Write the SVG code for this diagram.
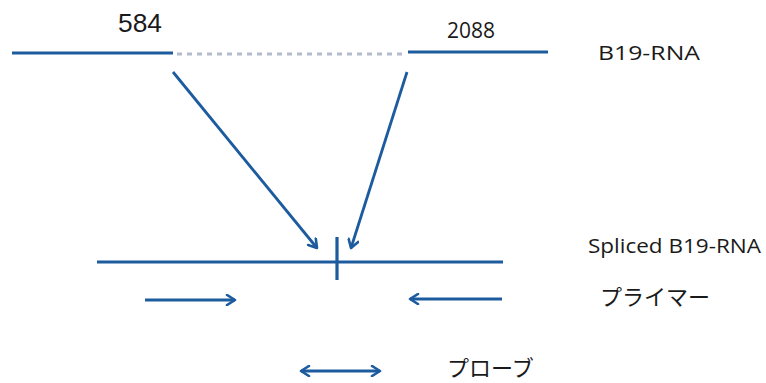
<svg xmlns="http://www.w3.org/2000/svg" width="766" height="383" viewBox="0 0 766 383">
  <defs>
    <marker id="chev" viewBox="0 0 12 12" refX="10" refY="6" markerWidth="12" markerHeight="12" markerUnits="userSpaceOnUse" orient="auto-start-reverse">
      <path d="M2,1 L10,6 L2,11" fill="none" stroke="#1c5b9e" stroke-width="2.6" stroke-linecap="round" stroke-linejoin="round"/>
    </marker>
    <style>
      .ln { stroke: #1c5b9e; stroke-width: 3.2; fill: none; }
      .arr { stroke: #1c5b9e; stroke-width: 2.8; fill: none; marker-end: url(#chev); }
      .dash { stroke: #b3bccb; stroke-width: 3; stroke-dasharray: 5 5; fill: none; }
      .lbl { font-family: "Open Sans", "Liberation Sans", sans-serif; fill: #1a1a1a; }
      .jp { font-family: "Noto Sans CJK JP", sans-serif; fill: #1a1a1a; }
    </style>
  </defs>
  <rect width="766" height="383" fill="#ffffff"/>

  <g id="b19-rna">
    <line class="ln" x1="12" y1="53" x2="173" y2="53"/>
    <line class="dash" x1="177" y1="54" x2="406" y2="54"/>
    <line class="ln" x1="408" y1="52" x2="548" y2="52"/>
    <text class="lbl" x="118" y="32" font-size="26" textLength="44" lengthAdjust="spacingAndGlyphs" style="font-family:'Liberation Sans',sans-serif">584</text>
    <text class="lbl" x="447" y="38" font-size="21" textLength="48" lengthAdjust="spacingAndGlyphs">2088</text>
    <text class="lbl" x="598" y="60" font-size="20.5" textLength="102" lengthAdjust="spacingAndGlyphs">B19-RNA</text>
  </g>

  <g id="spliced">
    <line class="ln" x1="97" y1="262" x2="503" y2="262"/>
    <line class="ln" x1="337" y1="237" x2="337" y2="280"/>
    <text class="lbl" x="588" y="253" font-size="20.5" textLength="173" lengthAdjust="spacingAndGlyphs">Spliced B19-RNA</text>
  </g>

  <g id="primer">
    <text class="jp" x="600" y="305" font-size="22">プライマー</text>
  </g>

  <g id="probe">
    <text class="jp" x="447" y="376" font-size="22">プローブ</text>
  </g>

  <g id="connectors">
    <line class="arr" x1="173" y1="72" x2="317" y2="248"/>
    <line class="arr" x1="407" y1="72" x2="351" y2="248"/>
    <line class="arr" x1="145" y1="300" x2="235" y2="300"/>
    <line class="arr" x1="502" y1="299" x2="410" y2="299"/>
    <line class="arr" x1="301" y1="371" x2="380" y2="371" style="marker-start:url(#chev)"/>
  </g>
</svg>
